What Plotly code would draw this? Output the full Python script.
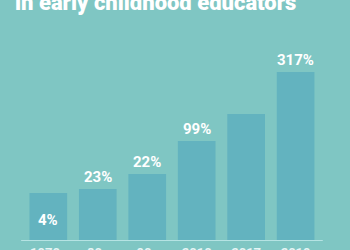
import plotly.graph_objects as go

categories = ["1970s", "80s", "90s", "2010", "2017", "2019"]
bar_values = [48, 52, 67, 100, 127, 169]
bar_labels = ["4%", "23%", "22%", "99%", "", "317%"]

BG = "#7fc6c3"
BAR = "#63b3bf"
LINE = "#b5e3e3"

fig = go.Figure()
fig.add_trace(go.Bar(x=categories, y=bar_values, marker=dict(color=BAR, line=dict(width=0)),
                     hoverinfo="skip"))

for i, (c, v, t) in enumerate(zip(categories, bar_values, bar_labels)):
    if not t:
        continue
    if i == 0:
        fig.add_annotation(x=i, y=0, text=t, showarrow=False, yanchor="bottom", yshift=10,
                           font=dict(family="Roboto", size=15, color="white", weight="bold"))
    else:
        fig.add_annotation(x=i, y=v, text=t, showarrow=False, yanchor="bottom", yshift=1,
                           font=dict(family="Roboto", size=15, color="white", weight="bold"))

fig.add_annotation(xref="paper", yref="paper", x=13/350, y=1, xanchor="left", yanchor="middle",
                   text="in early childhood educators", showarrow=False, yshift=-2,
                   font=dict(family="Roboto", size=22, color="white", weight=900))

fig.add_shape(type="line", xref="x", yref="y", x0=-0.55, x1=5.55, y0=0, y1=0,
              line=dict(color=LINE, width=2))

fig.update_layout(
    width=350, height=250, margin=dict(l=0, r=0, t=0, b=9, autoexpand=False),
    paper_bgcolor=BG, plot_bgcolor=BG, bargap=0.238, showlegend=False,
    xaxis=dict(type="category", range=[-0.977, 6.10], showgrid=False, zeroline=False,
               showline=False, automargin=False, ticklabelstandoff=2,
               ticks="", tickfont=dict(family="Roboto", size=13, color="#e6f5f5", weight="bold")),
    yaxis=dict(range=[0, 241], visible=False, showgrid=False, zeroline=False, automargin=False),
)
fig.write_html("out.html")
